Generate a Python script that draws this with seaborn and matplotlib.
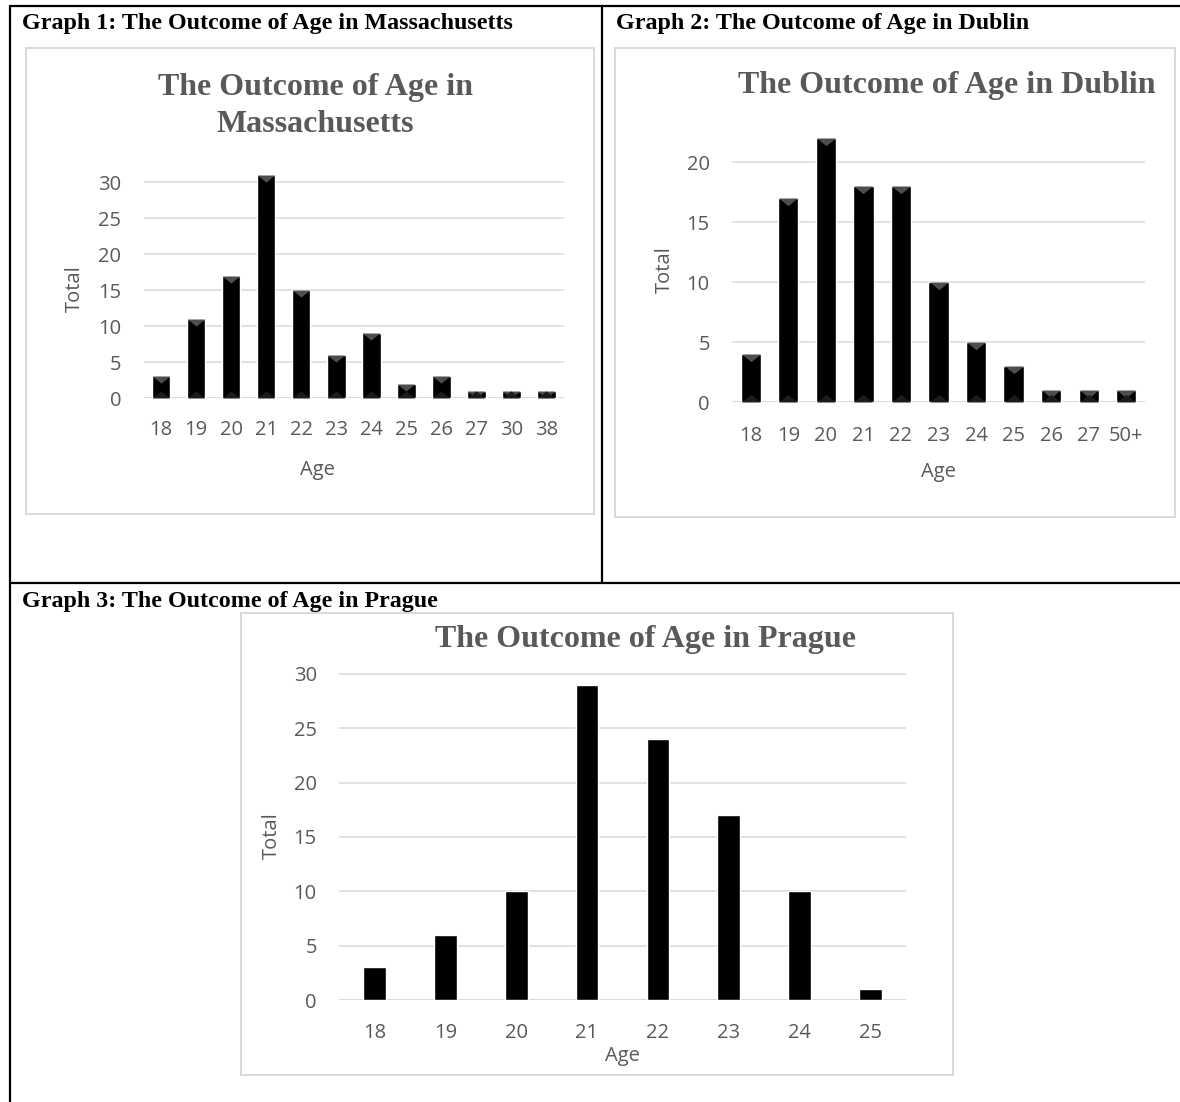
import numpy as np
import pandas as pd
import matplotlib
matplotlib.use("Agg")
import matplotlib.pyplot as plt
import seaborn as sns
from matplotlib.lines import Line2D
from matplotlib.patches import Rectangle

# ---------------- data ----------------
ma_ages = ['18', '19', '20', '21', '22', '23', '24', '25', '26', '27', '30', '38']
ma_totals = [3, 11, 17, 31, 15, 6, 9, 2, 3, 1, 1, 1]

du_ages = ['18', '19', '20', '21', '22', '23', '24', '25', '26', '27', '50+']
du_totals = [4, 17, 22, 18, 18, 10, 5, 3, 1, 1, 1]

pr_ages = ['18', '19', '20', '21', '22', '23', '24', '25']
pr_totals = [3, 6, 10, 29, 24, 17, 10, 1]

headers = ['Graph 1: The Outcome of Age in Massachusetts',
           'Graph 2: The Outcome of Age in Dublin',
           'Graph 3: The Outcome of Age in Prague']

# ---------------- style ----------------
sns.set_style('white')
plt.rcParams['font.family'] = ['Open Sans', 'DejaVu Sans']

W, H = 1180, 1102
fig = plt.figure(figsize=(W / 100, H / 100), dpi=100)

GRAY_TXT = '#595959'
GRID = '#d9d9d9'
SERIF = ['Liberation Serif', 'DejaVu Serif']
TICK_FS = 14.5
HEAD_FS = 17.3
TITLE_FS = 23


def fx(x):
    return x / W


def fy(y):
    return 1 - y / H


def line(x0, y0, x1, y1, **kw):
    fig.add_artist(Line2D([fx(x0), fx(x1)], [fy(y0), fy(y1)],
                          transform=fig.transFigure, **kw))


# table borders
tkw = dict(color='black', lw=1.6)
line(10, 6, 1180, 6, **tkw)
line(10, 6, 10, 1102, **tkw)
line(601.5, 6, 601.5, 583, **tkw)
line(10, 583, 1180, 583, **tkw)

# header texts
fig.text(fx(22), fy(28.5), headers[0], ha='left', va='baseline', fontsize=HEAD_FS,
         fontweight='bold', family=SERIF, color='black')
fig.text(fx(615.5), fy(28.5), headers[1], ha='left', va='baseline', fontsize=HEAD_FS,
         fontweight='bold', family=SERIF, color='black')
fig.text(fx(22), fy(606.5), headers[2], ha='left', va='baseline', fontsize=HEAD_FS,
         fontweight='bold', family=SERIF, color='black')

TOP_TRI = [(-1, 0), (1, 0), (0, -0.82), (-1, 0)]
BOT_TRI = [(-1, 0), (1, 0), (0, 0.82), (-1, 0)]


def chart(ages, totals, frame, left, right, y0, ppu, ymax, yticks, width,
          titles, title_x, title_ys, xlab_xy, ylab_xy, xpad, bevel=None):
    fx0, fy0, fx1, fy1 = frame
    fig.add_artist(Rectangle((fx(fx0), fy(fy1)), (fx1 - fx0) / W, (fy1 - fy0) / H,
                             transform=fig.transFigure, fill=False,
                             edgecolor=GRID, lw=1.4))
    top = y0 - ymax * ppu
    ax = fig.add_axes([fx(left), fy(y0), (right - left) / W, (y0 - top) / H])
    df = pd.DataFrame({'Age': ages, 'Total': totals})
    sns.barplot(data=df, x='Age', y='Total', order=ages, color='black',
                saturation=1, width=width, ax=ax, zorder=2)
    if bevel is not None:
        pos = np.arange(len(ages))
        ax.scatter(pos, totals, marker=TOP_TRI, s=bevel ** 2, color='#4d4d4d',
                   linewidths=0, zorder=3)
        ax.scatter(pos, np.zeros(len(ages)), marker=BOT_TRI, s=bevel ** 2,
                   color='#1c1c1c', linewidths=0, zorder=3)
    ax.set_ylim(0, ymax)
    ax.set_xlim(-0.5, len(ages) - 0.5)
    ax.set_yticks(yticks)
    ax.set_yticklabels([str(t) for t in yticks])
    for s in ax.spines.values():
        s.set_visible(False)
    ax.yaxis.grid(True, color=GRID, lw=1.1)
    ax.xaxis.grid(False)
    ax.set_axisbelow(True)
    ax.axhline(0, color=GRID, lw=1.8, zorder=1)
    ax.tick_params(axis='both', length=0, labelsize=TICK_FS, labelcolor=GRAY_TXT)
    ax.tick_params(axis='y', pad=16)
    ax.tick_params(axis='x', pad=xpad)
    ax.set_facecolor('none')
    ax.set_xlabel('Age', fontsize=TICK_FS, color=GRAY_TXT)
    ax.xaxis.set_label_coords(fx(xlab_xy[0]), fy(xlab_xy[1]), transform=fig.transFigure)
    ax.xaxis.label.set_verticalalignment('center')
    ax.set_ylabel('Total', fontsize=TICK_FS, color=GRAY_TXT)
    ax.yaxis.set_label_coords(fx(ylab_xy[0]), fy(ylab_xy[1]), transform=fig.transFigure)
    ax.yaxis.label.set_verticalalignment('center')
    for t, ty in zip(titles, title_ys):
        fig.text(fx(title_x), fy(ty), t, ha='center', va='baseline', fontsize=TITLE_FS,
                 fontweight='bold', family=SERIF, color=GRAY_TXT)
    return ax


# Graph 1: Massachusetts
ax1 = chart(ma_ages, ma_totals, (25.5, 48, 594, 514), 143.5, 564, 398, 7.2, 32,
            [0, 5, 10, 15, 20, 25, 30], 0.53,
            ['The Outcome of Age in', 'Massachusetts'], 315, [95, 132],
            (317, 470), (75, 289), 15.5, bevel=12.5)

# Graph 2: Dublin
ax2 = chart(du_ages, du_totals, (615, 48, 1174.5, 517), 732, 1145, 402, 12, 22.5,
            [0, 5, 10, 15, 20], 0.54,
            ['The Outcome of Age in Dublin'], 947, [93],
            (938, 472), (665, 270), 17, bevel=13.5)

# Graph 3: Prague
ax3 = chart(pr_ages, pr_totals, (241, 612.5, 953, 1075), 339, 906, 1000,
            10.87, 30.5, [0, 5, 10, 15, 20, 25, 30], 0.32,
            ['The Outcome of Age in Prague'], 645.5, [646.5],
            (622, 1056), (272, 836), 16.5, bevel=None)

fig.savefig('out.png', dpi=100, facecolor='white')
